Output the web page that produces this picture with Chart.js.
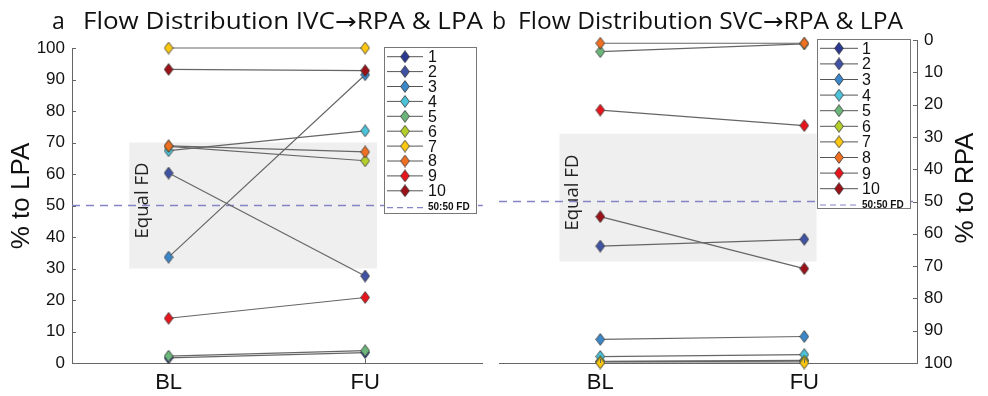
<!DOCTYPE html>
<html>
<head>
<meta charset="utf-8">
<script src="https://cdn.jsdelivr.net/npm/chart.js@4.4.1/dist/chart.umd.min.js"></script>
<style>
  html, body { margin: 0; padding: 0; background: #fff; }
  #wrap { position: relative; width: 988px; height: 396px; }
  canvas { position: absolute; top: 0; }
  #left { left: 0; }
  #right { left: 490px; }
</style>
</head>
<body>
<div id="wrap">
  <canvas id="left" width="490" height="396"></canvas>
  <canvas id="right" width="498" height="396"></canvas>
</div>
<script>
// data
const phases = ['BL', 'FU'];
const patients = ['1', '2', '3', '4', '5', '6', '7', '8', '9', '10'];
const colors = ['#2b3990', '#4052a3', '#3c87c8', '#4cc3d9', '#6db67b',
                '#b5cf2a', '#fcc810', '#f07022', '#e8141c', '#9b1118'];
// IVC -> % to LPA
const ivcBL = [1.6, 60.3, 33.6, 67.4, 2.2, 68.8, 100, 68.9, 14.2, 93.2];
const ivcFU = [3.3, 27.6, 91.5, 73.7, 3.9, 64.2, 100, 67.0, 20.8, 92.8];
// SVC -> % to RPA
const svcBL = [99.5, 63.8, 92.7, 98.0, 3.6, 99.6, 100, 1.0, 21.7, 54.7];
const svcFU = [99.2, 61.7, 91.8, 97.4, 1.2, 99.4, 100, 1.0, 26.5, 70.8];
const yTicks = [0, 10, 20, 30, 40, 50, 60, 70, 80, 90, 100];
const equalFD = [30, 70];
const equalFDsvc = [29, 68.6];
const split = 50;

Chart.defaults.font.family = '"Liberation Sans", Arial, sans-serif';
Chart.defaults.color = '#111';

function diamond(fill) {
  const c = document.createElement('canvas');
  c.width = 10; c.height = 13;
  const g = c.getContext('2d');
  g.beginPath();
  g.moveTo(5, 0.6); g.lineTo(9.4, 6.5); g.lineTo(5, 12.4); g.lineTo(0.6, 6.5);
  g.closePath();
  g.fillStyle = fill; g.fill();
  g.lineWidth = 0.8; g.strokeStyle = '#333'; g.stroke();
  return c;
}
const markers = colors.map(diamond);

function buildDatasets(bl, fu) {
  return patients.map((p, i) => ({
    label: p,
    data: phases.map((ph, k) => ({ x: k + 1, y: k ? fu[i] : bl[i] })),
    borderColor: '#666',
    borderWidth: 1.2,
    pointStyle: markers[i],
    pointRadius: 6,
    clip: false,
    order: patients.length - i
  }));
}

const decor = {
  id: 'decor',
  beforeDatasetsDraw(chart, args, o) {
    const { ctx, chartArea: a, scales: { x, y } } = chart;
    ctx.save();
    const x0 = x.getPixelForValue(0.8), x1 = x.getPixelForValue(2.06);
    const y0 = y.getPixelForValue(o.band[0]), y1 = y.getPixelForValue(o.band[1]);
    ctx.fillStyle = '#efefef';
    ctx.fillRect(x0, Math.min(y0, y1), x1 - x0, Math.abs(y1 - y0));
    ctx.save();
    ctx.translate(x0 + 13, (y0 + y1) / 2 - 5);
    ctx.rotate(-Math.PI / 2);
    ctx.fillStyle = '#222';
    ctx.font = '19px "Open Sans"';
    ctx.textAlign = 'center';
    ctx.textBaseline = 'middle';
    ctx.fillText('Equal FD', 0, 0, 76);
    ctx.restore();
    // 50:50 line
    const ys = y.getPixelForValue(split);
    ctx.strokeStyle = '#8484c8';
    ctx.lineWidth = 1.5;
    ctx.setLineDash([8, 6]);
    ctx.beginPath();
    ctx.moveTo(a.left, ys); ctx.lineTo(a.right, ys);
    ctx.stroke();
    ctx.restore();
  },
  afterDatasetsDraw(chart, args, o) {
    const { ctx } = chart;
    const L = o.legend;
    ctx.save();
    ctx.fillStyle = '#fff';
    ctx.fillRect(L.x, L.y, L.w, L.h);
    ctx.strokeStyle = '#777';
    ctx.lineWidth = 1;
    ctx.strokeRect(L.x + 0.5, L.y + 0.5, L.w, L.h);
    ctx.font = '16px "Liberation Sans", Arial';
    ctx.textBaseline = 'middle';
    chart.data.datasets.forEach((ds, i) => {
      const ry = L.row0 + i * L.step;
      ctx.strokeStyle = '#555';
      ctx.beginPath();
      ctx.moveTo(L.line[0], ry); ctx.lineTo(L.line[1], ry);
      ctx.stroke();
      const m = ds.pointStyle;
      ctx.drawImage(m, (L.line[0] + L.line[1]) / 2 - m.width / 2, ry - m.height / 2);
      ctx.fillStyle = '#111';
      ctx.fillText(ds.label, L.textX, ry + 1);
    });
    ctx.strokeStyle = '#8484c8';
    ctx.lineWidth = 1.2;
    ctx.setLineDash([6, 4]);
    ctx.beginPath();
    ctx.moveTo(L.line[0], L.fdY); ctx.lineTo(L.line[1], L.fdY);
    ctx.stroke();
    ctx.setLineDash([]);
    ctx.font = 'bold 10px "Liberation Sans", Arial';
    ctx.fillText('50:50 FD', L.textX, L.fdY);
    ctx.restore();
  },
  afterDraw(chart, args, o) {
    const { ctx, chartArea: a, scales: { x, y } } = chart;
    ctx.save();
    // inward tick marks
    ctx.strokeStyle = '#666';
    ctx.lineWidth = 1;
    ctx.beginPath();
    y.ticks.forEach(t => {
      const py = Math.round(y.getPixelForValue(t.value)) + 0.5;
      if (y.position === 'left') { ctx.moveTo(a.left, py); ctx.lineTo(a.left + 4, py); }
      else { ctx.moveTo(a.right - 4, py); ctx.lineTo(a.right, py); }
    });
    x.ticks.forEach(t => {
      const px = Math.round(x.getPixelForValue(t.value)) + 0.5;
      ctx.moveTo(px, a.bottom); ctx.lineTo(px, a.bottom - 4);
    });
    ctx.stroke();
    // panel titles
    ctx.fillStyle = '#111';
    ctx.textBaseline = 'alphabetic';
    ctx.font = '23px "Open Sans", "DejaVu Sans"';
    ctx.fillText(o.letter, o.letterX, 29);
    const w = ctx.measureText(o.title).width;
    ctx.save();
    ctx.translate(o.titleX, 29);
    ctx.scale(o.titleW / w, 1);
    ctx.fillText(o.title, 0, 0);
    ctx.restore();
    // axis title
    ctx.translate(o.axisTitle[0], o.axisTitle[1]);
    ctx.rotate(-Math.PI / 2);
    ctx.font = '26px "Liberation Sans", Arial';
    ctx.textAlign = 'center';
    ctx.textBaseline = 'middle';
    ctx.fillText(o.axisText, 0, 0);
    ctx.restore();
  }
};

function makeChart(id, bl, fu, cfg) {
  return new Chart(document.getElementById(id), {
    type: 'line',
    data: { datasets: buildDatasets(bl, fu) },
    plugins: [decor],
    options: {
      responsive: false,
      animation: false,
      layout: { padding: cfg.padding },
      scales: {
        x: {
          type: 'linear',
          min: cfg.xRange[0],
          max: cfg.xRange[1],
          afterBuildTicks: s => { s.ticks = phases.map((_, k) => ({ value: k + 1 })); },
          afterFit: s => { s.height = 33; },
          ticks: { callback: v => phases[v - 1], font: { size: 22 }, color: '#111', padding: 7 },
          grid: { display: false, drawTicks: false },
          border: { color: '#666', width: 1 }
        },
        y: {
          position: cfg.yPos,
          reverse: cfg.reverse,
          min: 0,
          max: 100,
          afterBuildTicks: s => { s.ticks = yTicks.map(v => ({ value: v })); },
          afterFit: s => { s.width = cfg.yWidth; },
          ticks: { font: { size: 17 }, color: '#111', padding: 7 },
          grid: { display: false, drawTicks: false },
          border: { color: '#666', width: 1 }
        }
      },
      plugins: {
        legend: { display: false },
        tooltip: { enabled: false },
        decor: cfg.decor
      }
    }
  });
}

makeChart('left', ivcBL, ivcFU, {
  padding: { top: 48, left: 0, right: 0, bottom: 0 },
  xRange: [0.5085, 2.5985],
  yPos: 'left',
  reverse: false,
  yWidth: 72,
  decor: {
    band: equalFD,
    letter: 'a', letterX: 52,
    title: 'Flow Distribution IVC\u2192RPA & LPA', titleX: 83, titleW: 400,
    axisText: '% to LPA', axisTitle: [22, 196],
    legend: { x: 384, y: 47, w: 92, h: 166, row0: 56.7, step: 14.9,
              line: [387, 423], textX: 428, fdY: 207.7 }
  }
});

makeChart('right', svcBL, svcFU, {
  padding: { top: 40, left: 9, right: 0, bottom: 0 },
  xRange: [0.5034, 2.5525],
  yPos: 'right',
  reverse: true,
  yWidth: 71,
  decor: {
    band: equalFDsvc,
    letter: 'b', letterX: 2,
    title: 'Flow Distribution SVC\u2192RPA & LPA', titleX: 28, titleW: 385,
    axisText: '% to RPA', axisTitle: [476, 188],
    legend: { x: 327, y: 39, w: 93, h: 169, row0: 48.3, step: 15.6,
              line: [330, 368], textX: 372, fdY: 205 }
  }
});
</script>
</body>
</html>
